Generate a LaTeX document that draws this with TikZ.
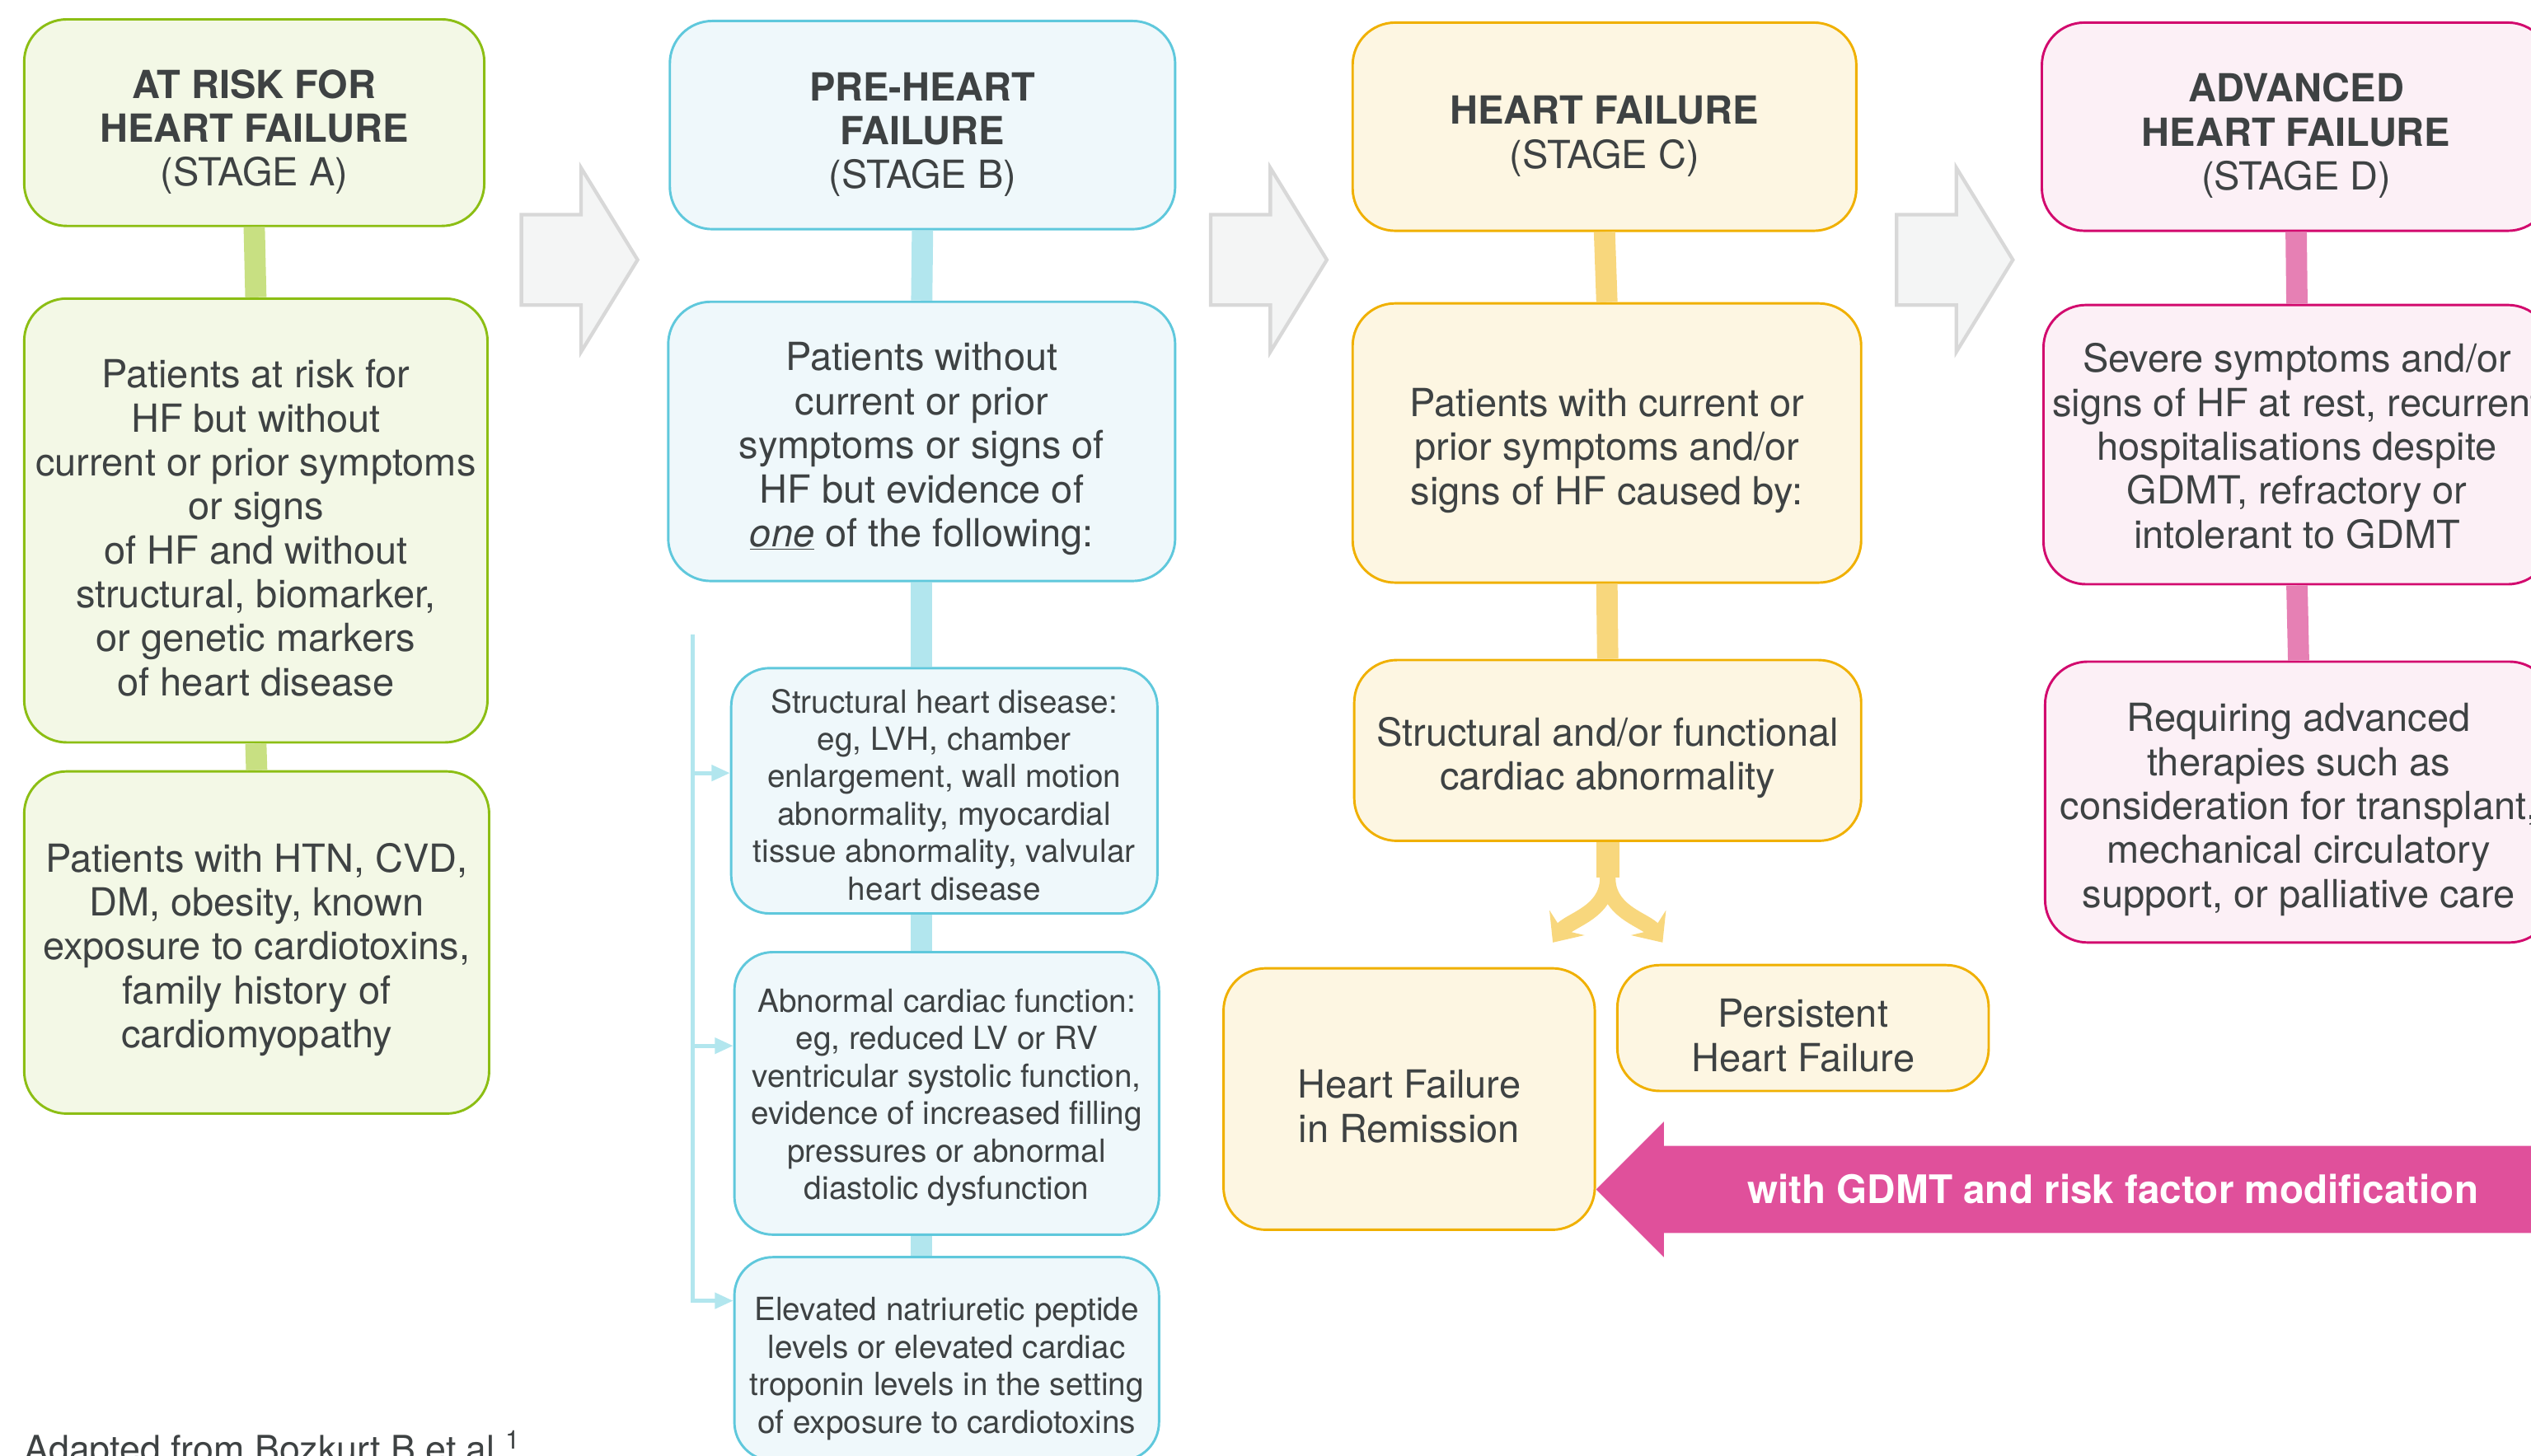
\documentclass[tikz,border=0pt]{standalone}
\usepackage{fontspec}
\setmainfont{TeX Gyre Heros}
\usetikzlibrary{arrows.meta}

\definecolor{txt}{RGB}{62,66,67}
\definecolor{grnline}{RGB}{140,190,20}
\definecolor{grnfill}{RGB}{243,248,230}
\definecolor{grnbar}{RGB}{200,224,130}
\definecolor{bluline}{RGB}{95,200,220}
\definecolor{blufill}{RGB}{239,248,251}
\definecolor{blubar}{RGB}{178,230,238}
\definecolor{ylwline}{RGB}{240,176,0}
\definecolor{ylwfill}{RGB}{253,246,226}
\definecolor{ylwbar}{RGB}{248,215,125}
\definecolor{pnkline}{RGB}{210,10,110}
\definecolor{pnkfill}{RGB}{252,240,246}
\definecolor{pnkbar}{RGB}{230,128,180}
\definecolor{pnkarrow}{RGB}{224,80,155}
\definecolor{chevfill}{RGB}{244,245,245}
\definecolor{chevline}{RGB}{216,216,216}

% extra room above the first line, to sit the text a little lower
\newcommand{\hdrop}{\rule{0pt}{33.2pt}}
\newcommand{\bdrop}{\rule{0pt}{30.4pt}}
\newcommand{\sdrop}{\rule{0pt}{22.4pt}}

\begin{document}
\begin{tikzpicture}[x=0.04cm, y=-0.04cm,
  box/.style={draw, rounded corners=30pt, line width=1.7pt, align=center, text=txt,
    inner sep=0pt, font=\fontsize{27.3}{31}\selectfont},
  subbox/.style={box, rounded corners=27pt, font=\fontsize{22.5}{26.4}\selectfont},
  grn/.style={draw=grnline, fill=grnfill},
  blu/.style={draw=bluline, fill=blufill},
  ylw/.style={draw=ylwline, fill=ylwfill},
  pnk/.style={draw=pnkline, fill=pnkfill},
  bar/.style={line width=15pt},
  brk/.style={blubar, line width=2.8pt, -{Triangle[length=13pt,width=11pt]}},
  chevron/.style={fill=chevfill, draw=chevline, line width=2.5pt},
  ysplit/.style={ylwbar, line width=11pt}]

\useasboundingbox (0,0) rectangle (1568,902);

% Gray arrows between the stages
\foreach \x in {323,750,1175}
  \draw[chevron] (\x,133) -- ++(37,0) -- ++(0,-29) -- ++(35,57) -- ++(-35,57)
    -- ++(0,-29) -- ++(-37,0) -- cycle;

% Stage A
\node[box, grn, minimum width=11.4cm, minimum height=5.12cm] (a0) at (157.5,76)
  {\hdrop\textbf{AT RISK FOR}\\\textbf{HEART FAILURE}\\(STAGE A)};
\node[box, grn, minimum width=11.48cm, minimum height=11cm] (a1) at (158.5,322.5)
  {\bdrop Patients at risk for\\HF but without\\current or prior symptoms\\or signs\\of HF and without\\structural, biomarker,\\or genetic markers\\of heart disease};
\node[box, grn, minimum width=11.52cm, minimum height=8.48cm] (a2) at (159,584)
  {\bdrop Patients with HTN, CVD,\\DM, obesity, known\\exposure to cardiotoxins,\\family history of\\cardiomyopathy};
\draw[bar, grnbar] (a0.south) -- (a1.north);
\draw[bar, grnbar] (a1.south) -- (a2.north);

% Stage B
\node[box, blu, minimum width=12.52cm, minimum height=5.16cm] (b0) at (571.5,77.5)
  {\hdrop\textbf{PRE-HEART}\\\textbf{FAILURE}\\(STAGE B)};
\node[box, blu, minimum width=12.56cm, minimum height=6.92cm] (b1) at (571,273.5)
  {\bdrop Patients without\\current or prior\\symptoms or signs of\\HF but evidence of\\\underline{\textit{one}} of the following:};
\node[subbox, blu, minimum width=10.56cm, minimum height=6.08cm] (bs1) at (585,490)
  {\sdrop Structural heart disease:\\eg, LVH, chamber\\enlargement, wall motion\\abnormality, myocardial\\tissue abnormality, valvular\\heart disease};
\node[subbox, blu, minimum width=10.52cm, minimum height=7cm] (bs2) at (586.5,677.5)
  {\sdrop Abnormal cardiac function:\\eg, reduced LV or RV\\ventricular systolic function,\\evidence of increased filling\\pressures or abnormal\\diastolic dysfunction};
\node[subbox, blu, minimum width=10.52cm, minimum height=5.04cm] (bs3) at (586.5,842)
  {\bdrop Elevated natriuretic peptide\\levels or elevated cardiac\\troponin levels in the setting\\of exposure to cardiotoxins};
\draw[bar, blubar] (b0.south) -- (b1.north);
\draw[bar, blubar] (b1.south) -- (b1.south |- bs1.north);
\draw[bar, blubar] (b1.south |- bs1.south) -- (b1.south |- bs2.north);
\draw[bar, blubar] (b1.south |- bs2.south) -- (b1.south |- bs3.north);

% bracket to the findings
\coordinate (brtop) at (429,393);
\draw[brk] (brtop |- 0,479) -- (bs1.west |- 0,479);
\draw[brk] (brtop |- 0,648) -- (bs2.west |- 0,648);
\draw[brk] (brtop) |- (bs3.west |- 0,806);

% Stage C
\node[box, ylw, minimum width=12.48cm, minimum height=5.16cm] (c0) at (994,78.5)
  {\hdrop\textbf{HEART FAILURE}\\(STAGE C)};
\node[box, ylw, minimum width=12.6cm, minimum height=6.92cm] (c1) at (995.5,274.5)
  {\bdrop Patients with current or\\prior symptoms and/or\\signs of HF caused by:};
\node[box, ylw, minimum width=12.56cm, minimum height=4.48cm] (c2) at (996,465)
  {\bdrop Structural and/or functional\\cardiac abnormality};
\node[box, ylw, minimum width=9.2cm, minimum height=6.48cm] (crem) at (873,681)
  {\bdrop Heart Failure\\in Remission};
\node[box, ylw, minimum width=9.2cm, minimum height=3.12cm] (cper) at (1117,637)
  {\bdrop Persistent\\Heart Failure};
\draw[bar, ylwbar] (c0.south) -- (c1.north);
\draw[bar, ylwbar] (c1.south) -- (c2.north);

% split below the abnormality box
\draw[ysplit, line width=16pt] (c2.south) -- ++(0,22) coordinate (fork);
\coordinate (forkL) at (962,584);
\coordinate (forkR) at (1030,584);
\draw[ysplit, -{Stealth[length=17pt,width=30pt,inset=6pt]}]
  (fork) .. controls +(0,22) and +(10,-14) .. (forkL);
\draw[ysplit, -{Stealth[length=17pt,width=30pt,inset=6pt]}]
  (fork) .. controls +(0,22) and +(-10,-14) .. (forkR);

% GDMT arrow
\coordinate (gdmtc) at (1309,737);
\fill[pnkarrow] (crem.east |- gdmtc) -- ++(42,-42) -- ++(0,15) -- ++(560,0)
  -- ++(0,54) -- ++(-560,0) -- ++(0,15) -- cycle;
\node[text=white, font=\fontsize{27.7}{31}\selectfont\bfseries] (gdmt) at (gdmtc)
  {with GDMT and risk factor modification};

% Stage D
\node[box, pnk, minimum width=12.6cm, minimum height=5.16cm] (d0) at (1422.5,78.5)
  {\hdrop\textbf{ADVANCED}\\\textbf{HEART FAILURE}\\(STAGE D)};
\node[box, pnk, minimum width=12.56cm, minimum height=6.92cm] (d1) at (1423,275.5)
  {\sdrop Severe symptoms and/or\\signs of HF at rest, recurrent\\hospitalisations despite\\GDMT, refractory or\\intolerant to GDMT};
\node[box, pnk, minimum width=12.56cm, minimum height=6.96cm] (d2) at (1424,497)
  {\bdrop Requiring advanced\\therapies such as\\consideration for transplant,\\mechanical circulatory\\support, or palliative care};
\draw[bar, pnkbar] (d0.south) -- (d1.north);
\draw[bar, pnkbar] (d1.south) -- (d2.north);

% Source
\node[anchor=base west, inner sep=0pt, text=txt, font=\fontsize{26}{31}\selectfont] (src) at (15,906)
  {Adapted from Bozkurt B et al.\textsuperscript{1}};

\end{tikzpicture}
\end{document}
